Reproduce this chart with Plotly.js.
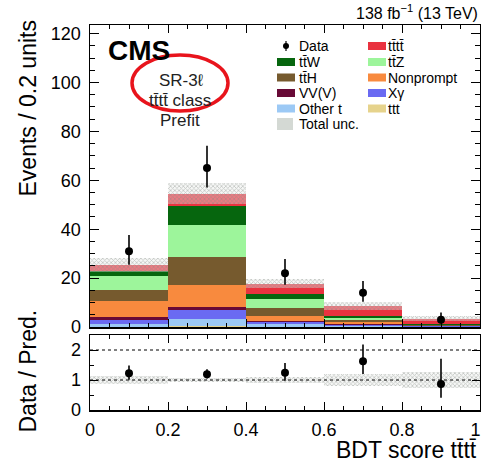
<!DOCTYPE html>
<html><head><meta charset="utf-8">
<script src="https://cdn.plot.ly/plotly-3.0.1.min.js"></script>
<style>body{margin:0;background:#fff}#chart{width:481px;height:464px}</style>
</head><body><div id="chart"></div>
<script>
// ---- data ----
const binCenters = [0.1, 0.3, 0.5, 0.7, 0.9];
const binWidth = 0.2;
const xTickVals = [0, 0.2, 0.4, 0.6, 0.8, 1];
const xTickText = ['0', '0.2', '0.4', '0.6', '0.8', '1\u2002'];
const ttt       = [0.2, 0.6, 0.2, 0.1, 0.05];
const otherT    = [1.0, 2.7, 1.0, 0.5, 0.1];
const xGamma    = [1.8, 3.6, 0.9, 0.4, 0.1];
const vvv       = [1.0, 1.3, 0.2, 0.1, 0.05];
const nonprompt = [6.8, 8.8, 2.2, 1.0, 0.2];
const ttH       = [4.5, 11.6, 3.4, 0.9, 0.15];
const ttZ       = [5.4, 13.1, 3.4, 0.8, 0.2];
const ttW       = [2.4, 7.8, 2.0, 0.6, 0.2];
const tttt      = [2.2, 5.0, 4.4, 4.2, 2.4];
const totalUnc  = [3.0, 4.2, 1.8, 1.6, 0.9];
const dataCounts  = [31, 65, 22, 14, 3];
const dataErrUp   = [6.6, 9.1, 5.8, 4.8, 2.9];
const dataErrDown = [5.5, 8.0, 4.7, 3.7, 1.6];

const TT = 't\u0074\u0304';           // t tbar
const TTTT = TT + TT;
const FONT = 'Liberation Sans, Arial, Helvetica, sans-serif';

// stack definition, bottom to top
const stack = [
  {name: 'ttt',       vals: ttt,       color: '#e6d38c'},
  {name: 'Other t',   vals: otherT,    color: '#9cc9f5'},
  {name: 'X\u03b3',   vals: xGamma,    color: '#6a6af2'},
  {name: 'VV(V)',     vals: vvv,       color: '#680a36'},
  {name: 'Nonprompt', vals: nonprompt, color: '#f88a3e'},
  {name: TT + 'H',    vals: ttH,       color: '#765a2e'},
  {name: TT + 'Z',    vals: ttZ,       color: '#9df59b'},
  {name: TT + 'W',    vals: ttW,       color: '#06660e'},
  {name: TTTT,        vals: tttt,      color: '#e9323f'}
];

const traces = [];
let cum = binCenters.map(() => 0);
stack.forEach(s => {
  traces.push({
    type: 'bar', x: binCenters, y: s.vals, base: cum.slice(), width: binWidth,
    marker: {color: s.color, line: {width: 0}}, xaxis: 'x', yaxis: 'y', showlegend: false
  });
  cum = cum.map((c, i) => c + s.vals[i]);
});
const total = cum;

const patt = {shape: 'x', size: 3, solidity: 0.45, fgcolor: 'rgba(130,137,130,0.9)', bgcolor: 'rgba(232,235,232,0.4)', fillmode: 'overlay'};

// uncertainty band main
traces.push({
  type: 'bar', x: binCenters, width: binWidth,
  base: total.map((t, i) => t - totalUnc[i]), y: totalUnc.map(u => 2 * u),
  marker: {color: 'rgba(0,0,0,0)', line: {width: 0}, pattern: patt},
  xaxis: 'x', yaxis: 'y', showlegend: false
});
// data main
traces.push({
  type: 'scatter', mode: 'markers', x: binCenters, y: dataCounts,
  marker: {color: 'black', size: 8},
  error_y: {type: 'data', array: dataErrUp, arrayminus: dataErrDown, width: 0, thickness: 1.6, color: 'black'},
  xaxis: 'x', yaxis: 'y', showlegend: false
});
// ratio band
const relUnc = totalUnc.map((u, i) => u / total[i]);
traces.push({
  type: 'bar', x: binCenters, width: binWidth,
  base: relUnc.map(r => 1 - r), y: relUnc.map(r => 2 * r),
  marker: {color: 'rgba(0,0,0,0)', line: {width: 0}, pattern: patt},
  xaxis: 'x2', yaxis: 'y2', showlegend: false
});
// ratio points
traces.push({
  type: 'scatter', mode: 'markers', x: binCenters, y: dataCounts.map((d, i) => d / total[i]),
  marker: {color: 'black', size: 8},
  error_y: {type: 'data', array: dataErrUp.map((e, i) => e / total[i]),
            arrayminus: dataErrDown.map((e, i) => e / total[i]), width: 0, thickness: 1.6, color: 'black'},
  xaxis: 'x2', yaxis: 'y2', showlegend: false
});

// pixel -> paper helpers (plot area: x 90..480, y 25..410)
const L = 90, R = 480, T = 25, B = 410;
const px = x => (x - L) / (R - L);
const py = y => (B - y) / (B - T);

const axCommon = {
  showline: true, linecolor: 'black', linewidth: 1.5, mirror: 'allticks',
  ticks: 'inside', tickcolor: 'black', tickwidth: 1, showgrid: false, zeroline: false,
  tickfont: {family: FONT, size: 18, color: 'black'}
};

const shapes = [
  {type: 'line', xref: 'x2 domain', yref: 'y2', x0: 0, x1: 1, y0: 1, y1: 1, line: {color: 'black', width: 1, dash: 'dot'}},
  {type: 'line', xref: 'x2 domain', yref: 'y2', x0: 0, x1: 1, y0: 2, y1: 2, line: {color: 'black', width: 1, dash: 'dot'}},
  {type: 'circle', xref: 'paper', yref: 'paper', x0: px(132), x1: px(228), y0: py(111), y1: py(55),
   line: {color: '#e8141c', width: 3.5}}
];
const annotations = [
  {text: '138 fb<sup>\u22121</sup> (13 TeV)', xref: 'paper', yref: 'paper', x: 1, y: py(12), xanchor: 'right', yanchor: 'middle', showarrow: false, font: {family: FONT, size: 16, color: 'black'}},
  {text: '<b>CMS</b>', xref: 'paper', yref: 'paper', x: px(106), y: py(50), xanchor: 'left', yanchor: 'middle', showarrow: false, font: {family: FONT, size: 28, color: 'black'}},
  {text: 'SR-3\u2113', xref: 'paper', yref: 'paper', x: px(181), y: py(80), xanchor: 'center', yanchor: 'middle', showarrow: false, font: {family: FONT, size: 17, color: '#222'}},
  {text: TTTT + ' class', xref: 'paper', yref: 'paper', x: px(180), y: py(101), xanchor: 'center', yanchor: 'middle', showarrow: false, font: {family: FONT, size: 17, color: '#222'}},
  {text: 'Prefit', xref: 'paper', yref: 'paper', x: px(180), y: py(121), xanchor: 'center', yanchor: 'middle', showarrow: false, font: {family: FONT, size: 17, color: '#222'}},
  {text: 'Events / 0.2 units', xref: 'paper', yref: 'paper', x: px(27.5), y: py(18), xanchor: 'center', yanchor: 'top', textangle: -90, showarrow: false, font: {family: FONT, size: 23, color: 'black'}},
  {text: 'Data / Pred.', xref: 'paper', yref: 'paper', x: px(27.5), y: py(371), xanchor: 'center', yanchor: 'middle', textangle: -90, showarrow: false, font: {family: FONT, size: 23, color: 'black'}},
  {text: 'BDT score ' + TTTT, xref: 'paper', yref: 'paper', x: px(479), y: py(450), xanchor: 'right', yanchor: 'middle', showarrow: false, font: {family: FONT, size: 23, color: 'black'}}
];

// legend (manual, two columns)
const legendCol1 = [
  {name: 'Data', kind: 'data'},
  {name: TT + 'W', color: '#06660e'},
  {name: TT + 'H', color: '#765a2e'},
  {name: 'VV(V)', color: '#680a36'},
  {name: 'Other t', color: '#9cc9f5'},
  {name: 'Total unc.', kind: 'unc'}
];
const legendCol2 = [
  {name: TTTT, color: '#e9323f'},
  {name: TT + 'Z', color: '#9df59b'},
  {name: 'Nonprompt', color: '#f88a3e'},
  {name: 'X\u03b3', color: '#6a6af2'},
  {name: 'ttt', color: '#e6d38c'}
];
const rowY = [46, 62, 77.5, 93, 108.5, 124];
function addLegendCol(items, sx0, sx1, tx) {
  items.forEach((it, k) => {
    const yc = rowY[k];
    if (it.kind === 'data') {
      const cx = (sx0 + sx1) / 2;
      shapes.push({type: 'line', xref: 'paper', yref: 'paper', x0: px(cx), x1: px(cx), y0: py(yc - 5), y1: py(yc + 5), line: {color: 'black', width: 1.2}});
      shapes.push({type: 'circle', xref: 'paper', yref: 'paper', x0: px(cx - 3), x1: px(cx + 3), y0: py(yc + 3), y1: py(yc - 3), fillcolor: 'black', line: {color: 'black', width: 0}});
    } else if (it.kind === 'unc') {
      shapes.push({type: 'rect', xref: 'paper', yref: 'paper', x0: px(sx0), x1: px(sx1 - 2), y0: py(yc + 6), y1: py(yc - 6), fillcolor: '#d4d9d4', line: {width: 0}});
    } else {
      shapes.push({type: 'rect', xref: 'paper', yref: 'paper', x0: px(sx0), x1: px(sx1), y0: py(yc + 4), y1: py(yc - 4), fillcolor: it.color, line: {width: 0}});
    }
    annotations.push({text: it.name, xref: 'paper', yref: 'paper', x: px(tx), y: py(yc), xanchor: 'left', yanchor: 'middle', showarrow: false, font: {family: FONT, size: 14, color: 'black'}});
  });
}
addLegendCol(legendCol1, 277, 295, 297);
addLegendCol(legendCol2, 368, 386, 386);

const layout = {
  width: 481, height: 464,
  margin: {l: L, r: 481 - R, t: T, b: 464 - B},
  paper_bgcolor: 'white', plot_bgcolor: 'white',
  barmode: 'overlay', bargap: 0, hovermode: false, showlegend: false,
  font: {family: FONT, color: 'black'},
  xaxis: Object.assign({}, axCommon, {domain: [0, 1], range: [0, 1], anchor: 'y', tickvals: xTickVals, showticklabels: false, ticklen: 8,
    minor: {ticks: 'inside', ticklen: 4, dtick: 0.05, tick0: 0, tickcolor: 'black', showgrid: false}}),
  yaxis: Object.assign({}, axCommon, {domain: [(B - 327) / (B - T), 1], range: [0, 123.5], anchor: 'x', dtick: 20, ticklen: 9, ticklabelstandoff: 4,
    minor: {ticks: 'inside', ticklen: 5, dtick: 5, tick0: 0, tickcolor: 'black', showgrid: false}}),
  xaxis2: Object.assign({}, axCommon, {domain: [0, 1], range: [0, 1], anchor: 'y2', tickvals: xTickVals, ticktext: xTickText, ticklen: 8, ticklabelstandoff: 3,
    ticklabeloverflow: 'allow',
    minor: {ticks: 'inside', ticklen: 4, dtick: 0.05, tick0: 0, tickcolor: 'black', showgrid: false}}),
  yaxis2: Object.assign({}, axCommon, {domain: [0, (B - 335) / (B - T)], range: [0, 2.5], anchor: 'x2', tickvals: [0, 1, 2], ticklen: 8, ticklabelstandoff: 4,
    minor: {ticks: 'inside', ticklen: 4, dtick: 0.5, tick0: 0, tickcolor: 'black', showgrid: false}}),
  shapes: shapes,
  annotations: annotations
};

Plotly.newPlot('chart', traces, layout, {staticPlot: true, displayModeBar: false});
</script>
</body></html>
